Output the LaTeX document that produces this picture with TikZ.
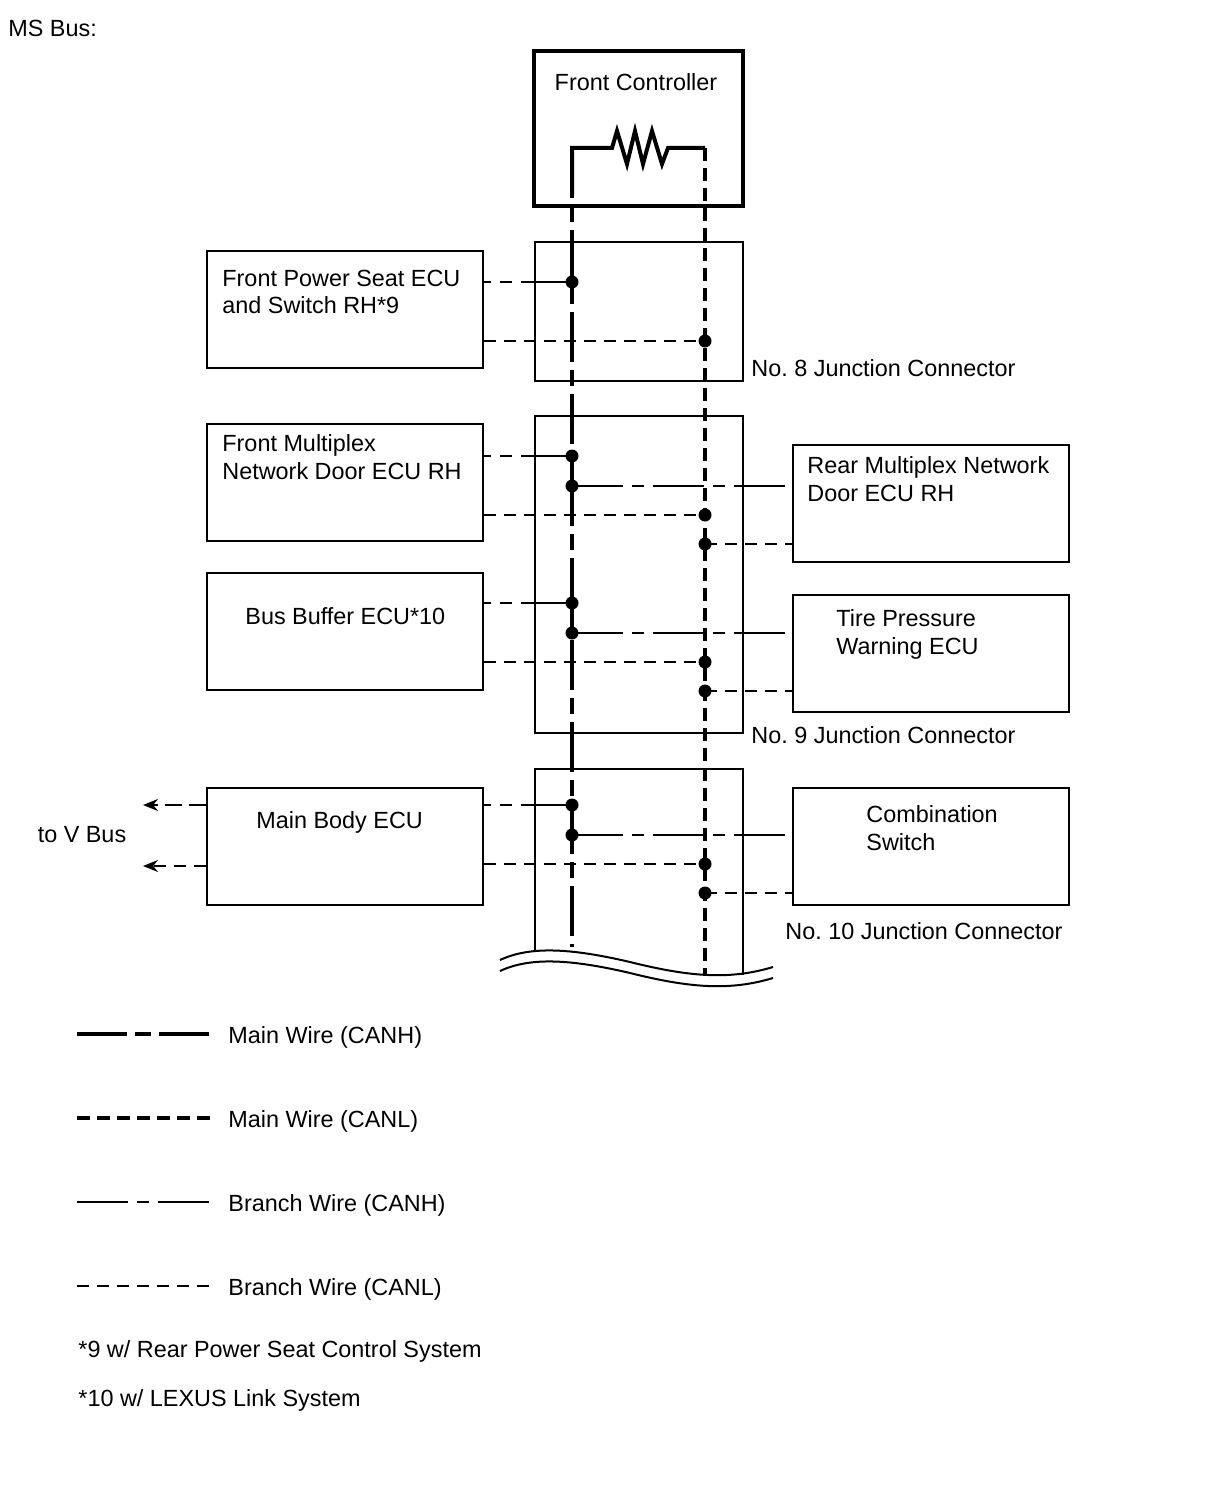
\documentclass[tikz,border=0pt]{standalone}
\usepackage{fontspec}
\setmainfont{Liberation Sans}
\usetikzlibrary{arrows.meta,calc}
\frenchspacing
\begin{document}
\begin{tikzpicture}[x=0.5pt,y=-0.5pt,
  every node/.style={font=\fontsize{11.7}{14}\selectfont},
  txt/.style={anchor=base west,inner sep=0pt},
  ecu/.style={draw,line width=1pt,minimum width=138pt,minimum height=58.5pt,inner sep=0pt},
  jbox/.style={draw,line width=1pt,minimum width=104pt,inner sep=0pt},
  fcbox/.style={draw,line width=2pt,minimum width=104.5pt,minimum height=77.5pt,inner sep=0pt},
  mainH/.style={line width=2pt,dash pattern=on 25pt off 4pt on 8pt off 4pt},
  mainL/.style={line width=2pt,dash pattern=on 6.5pt off 3.5pt},
  brH/.style={line width=1pt,dash pattern=on 25.5pt off 4.5pt on 6pt off 4.5pt},
  brL/.style={line width=1pt,dash pattern=on 6pt off 4pt},
  brHshort/.style={line width=1pt,dash pattern=on 8.5pt off 3.5pt},
  jdot/.style={circle,fill,inner sep=0pt,minimum size=6.5pt},
  tip/.style={-{Stealth[length=7.5pt,width=6pt]}}
]
\useasboundingbox (0,0) rectangle (1210,1498);

\node[txt] (title) at (8,37) {MS Bus:};

% Front controller
\node[fcbox] (fc) at (638.5,128.5) {};
\node[anchor=base,inner sep=0pt] (fct) at (636,91) {Front Controller};

% Junction connectors
\node[jbox,minimum height=69.5pt] (j8) at (639,311.5) {};
\node[jbox,minimum height=158.5pt] (j9) at (639,574.5) {};
\coordinate (j10nw) at (535,769);
\coordinate (j10ne) at (743,769);
\coordinate (j10sw) at (535,951);
\coordinate (j10se) at (743,975);
\draw[line width=1pt] (j10sw) -- (j10nw) -- (j10ne) -- (j10se);
\node[txt] (j8t) at (751,376) {No. 8 Junction Connector};
\node[txt] (j9t) at (751,743) {No. 9 Junction Connector};
\node[txt] (j10t) at (785,939) {No. 10 Junction Connector};

% Break lines
\draw[line width=1pt] (500,960) .. controls (530,946) and (570,948) .. (630,962) .. controls (690,977) and (730,980) .. (773,967);
\draw[line width=1pt] (500,971) .. controls (530,957) and (570,959) .. (630,973) .. controls (690,988) and (730,991) .. (773,978);

% ECU boxes left
\node[ecu] (fps) at (345,309.5) {};
\node[txt] at (222,286) {Front Power Seat ECU};
\node[txt] at (222,314) {and Switch RH*9};
\node[ecu] (fm) at (345,482.5) {};
\node[txt] at (222,451) {Front Multiplex};
\node[txt] at (222,479) {Network Door ECU RH};
\node[ecu] (bb) at (345,631.5) {};
\node[txt] at (245,624) {Bus Buffer ECU*10};
\node[ecu] (mb) at (345,846.5) {};
\node[txt] at (256,828) {Main Body ECU};

% ECU boxes right
\node[ecu] (rm) at (931,503.5) {};
\node[txt] at (807,473) {Rear Multiplex Network};
\node[txt] at (807,501) {Door ECU RH};
\node[ecu] (tpw) at (931,653.5) {};
\node[txt] at (836,626) {Tire Pressure};
\node[txt] at (836,654) {Warning ECU};
\node[ecu] (cs) at (931,846.5) {};
\node[txt] at (866,822) {Combination};
\node[txt] at (866,850) {Switch};

% main wire coordinates
\coordinate (hTop) at (572,148);
\coordinate (hBot) at (572,947);
\coordinate (lTop) at (705,148);
\coordinate (lBot) at (705,975);

% resistor
\draw[line width=2pt,line join=miter] (572,196) -- (hTop) -- (612,148) -- (617,131) -- (627,164) -- (635,131) -- (643,164) -- (652,131) -- (662,164) -- (668,148) -- (lTop);

% main wires
\draw[mainH] (hTop) -- (hBot);
\draw[mainL] (lTop) -- (lBot);

% dot coordinates
\coordinate (h8) at (572,282);
\coordinate (l8) at (705,341);
\coordinate (h9a) at (572,456);
\coordinate (h9b) at (572,486);
\coordinate (l9a) at (705,515);
\coordinate (l9b) at (705,544);
\coordinate (h9c) at (572,603);
\coordinate (h9d) at (572,633);
\coordinate (l9c) at (705,662);
\coordinate (l9d) at (705,691);
\coordinate (h10a) at (572,805);
\coordinate (h10b) at (572,835);
\coordinate (l10a) at (705,864);
\coordinate (l10b) at (705,893);

% solid links between paired CANH dots
\draw[line width=2pt] (h9a) -- (h9b);
\draw[line width=2pt] (h9c) -- (h9d);

% branch wires
\draw[brH] (h8) -- (h8 -| fps.east);
\draw[brL] (l8 -| fps.east) -- (l8);
\draw[brH] (h9a) -- (h9a -| fm.east);
\draw[brL] (l9a -| fm.east) -- (l9a);
\draw[brH] (h9b) -- (h9b -| rm.west);
\draw[brL] (l9b) -- (l9b -| rm.west);
\draw[brH] (h9c) -- (h9c -| bb.east);
\draw[brL] (l9c -| bb.east) -- (l9c);
\draw[brH] (h9d) -- (h9d -| tpw.west);
\draw[brL] (l9d) -- (l9d -| tpw.west);
\draw[brH] (h10a) -- (h10a -| mb.east);
\draw[brL] (l10a -| mb.east) -- (l10a);
\draw[brH] (h10b) -- (h10b -| cs.west);
\draw[brL] (l10b) -- (l10b -| cs.west);

% to V bus
\coordinate (vH) at (143,805);
\coordinate (vL) at (143,866);
\draw[brHshort,tip] (mb.west |- vH) -- (vH);
\draw[brL,tip] (mb.west |- vL) -- (vL);
\node[anchor=base,inner sep=0pt] (vbus) at (82,842) {to V Bus};

% dots
\foreach \d in {h8,l8,h9a,h9b,l9a,l9b,h9c,h9d,l9c,l9d,h10a,h10b,l10a,l10b}
  \node[jdot] (dot-\d) at (\d) {};

% legend
\coordinate (lg1a) at (77,1034); \coordinate (lg1b) at (212,1034);
\coordinate (lg2a) at (77,1118); \coordinate (lg2b) at (212,1118);
\coordinate (lg3a) at (77,1202); \coordinate (lg3b) at (212,1202);
\coordinate (lg4a) at (77,1286); \coordinate (lg4b) at (212,1286);
\draw[mainH] (lg1a) -- (lg1b);
\draw[mainL] (lg2a) -- (lg2b);
\draw[brH] (lg3a) -- (lg3b);
\draw[brL] (lg4a) -- (lg4b);
\node[txt] at (228,1043) {Main Wire (CANH)};
\node[txt] at (228,1127) {Main Wire (CANL)};
\node[txt] at (228,1211) {Branch Wire (CANH)};
\node[txt] at (228,1295) {Branch Wire (CANL)};

\node[txt] at (78,1357) {*9 w/ Rear Power Seat Control System};
\node[txt] at (78,1406) {*10 w/ LEXUS Link System};
\end{tikzpicture}
\end{document}
